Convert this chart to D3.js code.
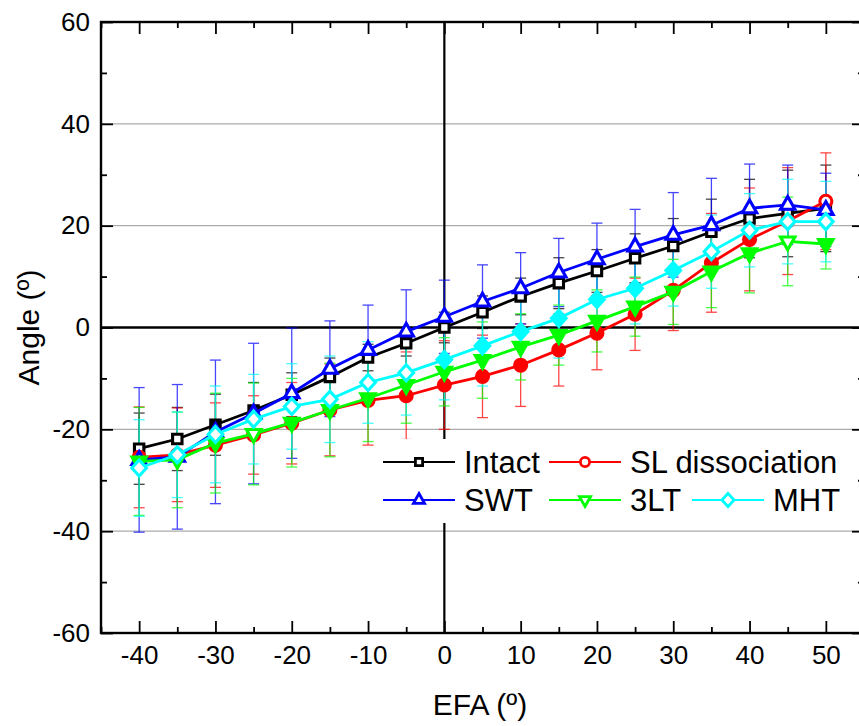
<!DOCTYPE html>
<html><head><meta charset="utf-8">
<script src="https://cdn.jsdelivr.net/npm/d3@7"></script>
<style>
body{margin:0;background:#fff}
svg{display:block}
text{font-family:"Liberation Sans",Arial,sans-serif;fill:#000}
</style>
</head><body>
<svg id="chart" width="859" height="726"></svg>
<script>
// ---------- data ----------
const efa = [-40,-35,-30,-25,-20,-15,-10,-5,0,5,10,15,20,25,30,35,40,45,50];

const intactMean = [-23.8,-21.9,-19.1,-16.3,-13.2,-9.7,-5.9,-3.1,0.0,3.0,6.1,8.7,11.1,13.6,16.0,18.8,21.4,22.4,23.4];
const intactSD   = [7.0,6.2,6.0,5.5,4.3,3.7,2.6,2.5,3.0,3.2,3.6,5.0,4.2,4.8,5.4,6.4,7.7,8.5,8.5];
const intactFilled = [0,0,1,1,1,0,0,0,0,0,0,0,0,0,0,0,0,0,0];

const slMean = [-25.5,-25.0,-23.1,-21.1,-18.8,-16.2,-14.3,-13.4,-11.3,-9.6,-7.4,-4.4,-1.1,2.6,7.3,12.7,17.3,20.9,24.8];
const slSD   = [9.9,9.2,8.3,7.7,8.0,9.0,8.8,8.6,8.7,8.1,8.1,7.1,7.2,7.1,7.9,9.7,10.1,10.5,9.5];
const slFilled = [0,1,1,1,1,1,1,1,1,1,1,1,1,1,1,1,1,1,0];

const swtMean = [-26.0,-25.4,-20.5,-16.9,-12.9,-8.1,-4.4,-0.8,2.1,5.1,7.7,10.8,13.4,15.9,18.2,20.1,23.4,24.1,23.1];
const swtSD   = [14.2,14.2,14.1,13.8,12.8,9.4,8.8,8.2,7.2,7.2,7.0,6.7,7.1,7.3,8.3,9.2,8.7,7.8,7.2];
const swtFilled = [0,0,0,0,0,0,0,0,0,0,0,0,0,0,0,0,0,0,0];

const ltMean = [-26.3,-26.0,-22.7,-20.9,-18.7,-16.2,-13.9,-11.3,-8.7,-6.4,-3.8,-1.5,1.3,4.1,7.0,11.0,14.6,16.9,16.4];
const ltSD   = [10.6,9.4,9.8,10.0,8.7,9.2,8.5,7.5,6.7,7.5,6.5,5.9,6.1,5.8,6.4,7.1,7.8,8.7,4.9];
const ltFilled = [1,1,1,0,1,1,1,1,1,1,1,1,1,1,1,1,1,0,1];

const mhtMean = [-27.6,-25.0,-21.0,-18.0,-15.5,-14.1,-10.8,-8.9,-6.3,-3.6,-0.8,1.8,5.5,7.7,11.2,14.9,19.1,20.8,20.8];
const mhtSD   = [9.5,8.4,9.5,8.8,8.4,8.5,8.0,8.3,7.9,7.9,6.5,7.8,7.3,7.0,7.0,7.2,7.2,8.3,7.9];
const mhtFilled = [0,0,0,0,0,0,0,0,1,1,1,1,1,1,1,0,0,0,0];

const seriesNames = ["Intact","SL dissociation","SWT","3LT","MHT"];
const seriesColors = ["#000000","#ff0000","#0000ff","#00ff00","#00ffff"];
const seriesShapes = ["square","circle","triUp","triDown","diamond"];

const xMajorTicks = [-40,-30,-20,-10,0,10,20,30,40,50];
const xMinorTicks = [-45,-35,-25,-15,-5,5,15,25,35,45,55];
const yMajorTicks = [-60,-40,-20,0,20,40,60];
const yMinorTicks = [-50,-30,-10,10,30,50];
const yGridTicks = [-40,-20,20,40];

const xTitle = "EFA (º)";
const yTitle = "Angle (º)";

// ---------- build ----------
const series = [
  {mean: intactMean, sd: intactSD, filled: intactFilled},
  {mean: slMean, sd: slSD, filled: slFilled},
  {mean: swtMean, sd: swtSD, filled: swtFilled},
  {mean: ltMean, sd: ltSD, filled: ltFilled},
  {mean: mhtMean, sd: mhtSD, filled: mhtFilled}
].map((s,i)=>({...s, name: seriesNames[i], color: seriesColors[i], shape: seriesShapes[i],
  pts: efa.map((e,j)=>({x:e, y:s.mean[j], sd:s.sd[j], f:s.filled[j]}))}));

const svg = d3.select("#chart");
const L=101, R=864, T=22, B=633;
const x = d3.scaleLinear().domain([-45,55]).range([L,R]);
const y = d3.scaleLinear().domain([-60,60]).range([B,T]);
const fmt = d => String(d);

function shapePath(type, s){
  switch(type){
    case "square": return `M${-s},${-s}H${s}V${s}H${-s}Z`;
    case "circle": return `M${s},0A${s},${s} 0 1,1 ${-s},0A${s},${s} 0 1,1 ${s},0Z`;
    case "triUp": return `M0,${-1.15*s}L${s},${0.62*s}L${-s},${0.62*s}Z`;
    case "triDown": return `M0,${1.15*s}L${s},${-0.62*s}L${-s},${-0.62*s}Z`;
    case "diamond": return `M0,${-1.1*s}L${s},0L0,${1.1*s}L${-s},0Z`;
  }
}
const markerSize = {square:4.7, circle:6.0, triUp:7.2, triDown:7.2, diamond:7.3};
const legendSize = {square:3.6, circle:4.6, triUp:5.6, triDown:5.6, diamond:6.0};

// gridlines
svg.append("g").selectAll("line").data(yGridTicks).join("line")
  .attr("x1",L).attr("x2",R).attr("y1",d=>y(d)).attr("y2",d=>y(d))
  .attr("stroke","#ababab").attr("stroke-width",1.2);

// zero lines
svg.append("line").attr("x1",L).attr("x2",R).attr("y1",y(0)).attr("y2",y(0))
  .attr("stroke","#000").attr("stroke-width",2.6);
svg.append("line").attr("x1",x(0)).attr("x2",x(0)).attr("y1",T).attr("y2",B)
  .attr("stroke","#000").attr("stroke-width",2.2);

// axes
function styleAxis(g){
  g.select(".domain").remove();
  g.selectAll(".tick line").attr("stroke","#000").attr("stroke-width",1.8);
  g.selectAll("text").style("font-size","26px").attr("fill","#000");
}
svg.append("g").attr("transform",`translate(0,${B})`)
  .call(d3.axisBottom(x).tickValues(xMajorTicks).tickSize(-12).tickPadding(13).tickFormat(fmt))
  .call(styleAxis);
svg.append("g").attr("transform",`translate(0,${B})`)
  .call(d3.axisBottom(x).tickValues(xMinorTicks).tickSize(-6).tickFormat(""))
  .call(styleAxis);
svg.append("g").attr("transform",`translate(0,${T})`)
  .call(d3.axisTop(x).tickValues(xMajorTicks).tickSize(-12).tickFormat(""))
  .call(styleAxis);
svg.append("g").attr("transform",`translate(0,${T})`)
  .call(d3.axisTop(x).tickValues(xMinorTicks).tickSize(-6).tickFormat(""))
  .call(styleAxis);
svg.append("g").attr("transform",`translate(${L},0)`)
  .call(d3.axisLeft(y).tickValues(yMajorTicks).tickSize(-12).tickPadding(11).tickFormat(fmt))
  .call(styleAxis);
svg.append("g").attr("transform",`translate(${L},0)`)
  .call(d3.axisLeft(y).tickValues(yMinorTicks).tickSize(-6).tickFormat(""))
  .call(styleAxis);
svg.append("g").attr("transform",`translate(${R},0)`)
  .call(d3.axisRight(y).tickValues(yMajorTicks).tickSize(-12).tickFormat(""))
  .call(styleAxis);
svg.append("g").attr("transform",`translate(${R},0)`)
  .call(d3.axisRight(y).tickValues(yMinorTicks).tickSize(-6).tickFormat(""))
  .call(styleAxis);

// frame
svg.append("rect").attr("x",L).attr("y",T).attr("width",R-L).attr("height",B-T)
  .attr("fill","none").attr("stroke","#000").attr("stroke-width",2.4);

// axis titles
svg.append("text").attr("x",(L+859)/2).attr("y",715).attr("text-anchor","middle")
  .style("font-size","30px").text(xTitle);
svg.append("text").attr("transform",`translate(39,${y(0)}) rotate(-90)`).attr("text-anchor","middle")
  .style("font-size","30px").text(yTitle);

// error bars
const eb = svg.append("g");
series.forEach(s=>{
  const g = eb.append("g").attr("stroke",s.color).attr("stroke-width",1.3).attr("opacity",0.72);
  g.selectAll("line.v").data(s.pts).join("line").attr("class","v")
    .attr("x1",d=>x(d.x)).attr("x2",d=>x(d.x)).attr("y1",d=>y(d.y+d.sd)).attr("y2",d=>y(d.y-d.sd));
  g.selectAll("line.t").data(s.pts).join("line").attr("class","t")
    .attr("x1",d=>x(d.x)-5.5).attr("x2",d=>x(d.x)+5.5).attr("y1",d=>y(d.y+d.sd)).attr("y2",d=>y(d.y+d.sd));
  g.selectAll("line.b").data(s.pts).join("line").attr("class","b")
    .attr("x1",d=>x(d.x)-5.5).attr("x2",d=>x(d.x)+5.5).attr("y1",d=>y(d.y-d.sd)).attr("y2",d=>y(d.y-d.sd));
});

// lines + markers
const line = d3.line().x(d=>x(d.x)).y(d=>y(d.y));
series.forEach(s=>{
  svg.append("path").datum(s.pts).attr("d",line).attr("fill","none")
    .attr("stroke",s.color).attr("stroke-width",2.8);
  svg.append("g").selectAll("path").data(s.pts).join("path")
    .attr("transform",d=>`translate(${x(d.x)},${y(d.y)})`)
    .attr("d",shapePath(s.shape, markerSize[s.shape]))
    .attr("fill",d=>d.f? s.color : "#fff")
    .attr("stroke",s.color).attr("stroke-width",3.1).attr("stroke-linejoin","miter");
});

// legend
const lg = svg.append("g");
lg.append("rect").attr("x",376).attr("y",439).attr("width",476).attr("height",84).attr("fill","#fff");
const legendPos = [[383,462],[549,462],[383,500],[549,500],[692,500]];
series.forEach((s,i)=>{
  const [lx,ly] = legendPos[i];
  const g = lg.append("g").attr("transform",`translate(${lx},${ly})`);
  g.append("line").attr("x1",0).attr("x2",72).attr("y1",0).attr("y2",0)
    .attr("stroke",s.color).attr("stroke-width",2.2);
  g.append("path").attr("transform","translate(36,0)").attr("d",shapePath(s.shape,legendSize[s.shape]))
    .attr("fill","#fff").attr("stroke",s.color).attr("stroke-width",2.8);
  g.append("text").attr("x",81).attr("y",0).attr("dy","0.36em")
    .style("font-size","31px").text(s.name);
});
</script>
</body></html>
